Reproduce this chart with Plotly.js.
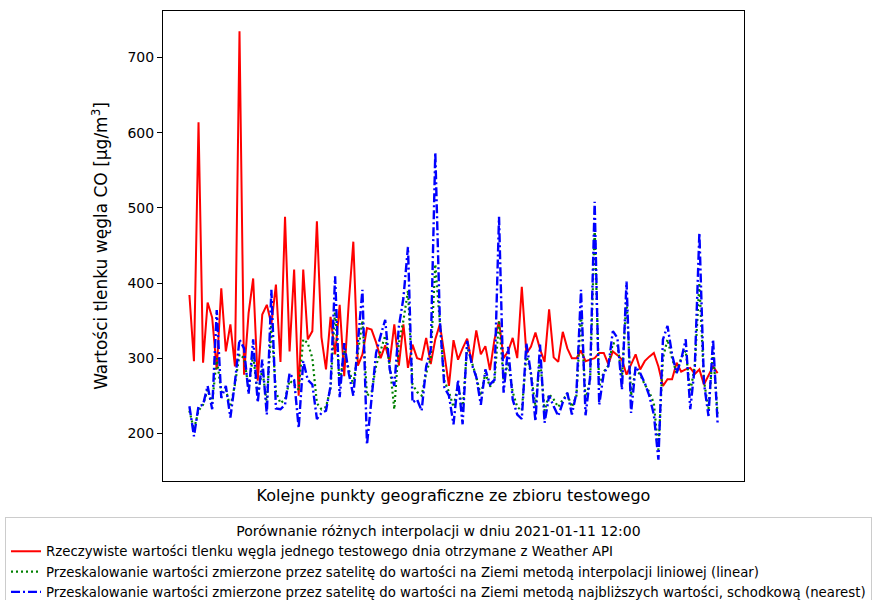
<!DOCTYPE html>
<html><head><meta charset="utf-8">
<script src="https://cdn.plot.ly/plotly-3.0.1.min.js"></script>
<style>html,body{margin:0;padding:0;background:#fff;overflow:hidden;} #chart{width:872px;height:620px;}</style>
</head><body><div id="chart"></div>
<script>
const realCO = [384,296,614,294,374,354,285,393,309,345,
 289,735,278,360,406,270,358,371,345,398,
 295,488,309,418,250,418,325,336,482,328,
 285,355,305,371,276,374,455,290,305,340,
 338,321,300,317,295,345,290,345,287,318,
 300,298,327,292,325,345,305,263,324,298,
 313,326,294,337,305,316,284,325,349,300,
 309,327,300,395,306,315,334,312,295,365,
 301,295,335,313,300,300,310,296,298,300,
 307,307,292,309,304,298,278,292,305,285,
 296,302,307,289,263,272,272,294,282,285,
 287,279,285,265,277,289,280];
const linearCO = [230,205,230,238,258,240,300,255,258,235,
 265,305,300,260,305,250,285,240,345,255,
 240,245,270,265,258,325,320,300,240,232,
 235,260,365,265,310,285,265,305,350,250,
 255,290,310,330,290,232,320,350,390,265,
 255,250,280,300,425,345,270,255,235,265,
 230,315,295,275,250,280,262,270,350,270,
 295,255,235,230,305,280,235,300,230,252,
 245,235,245,252,235,250,360,245,270,475,
 262,282,290,320,318,275,380,250,285,278,
 265,255,240,178,300,325,300,280,300,310,
 255,290,400,270,232,310,225];
const nearestCO = [236,196,236,238,263,232,364,247,263,221,
 268,325,313,252,325,241,298,225,391,233,
 232,238,280,271,207,296,271,265,219,227,
 230,263,409,248,320,280,250,316,391,185,
 250,307,330,351,285,263,342,380,448,241,
 245,230,289,311,574,351,261,250,212,271,
 212,323,292,275,238,285,265,271,488,254,
 315,245,225,219,320,280,216,318,214,250,
 236,223,241,254,225,254,391,224,275,508,
 238,280,289,336,327,258,402,227,289,280,
 267,250,225,165,325,343,305,280,298,325,
 232,289,467,267,223,325,214];
const yTicks = [200,300,400,500,600,700];
const seriesNames = [
 "Rzeczywiste wartości tlenku węgla jednego testowego dnia otrzymane z Weather API",
 "Przeskalowanie wartości zmierzone przez satelitę do wartości na Ziemi metodą interpolacji liniowej (linear)",
 "Przeskalowanie wartości zmierzone przez satelitę do wartości na Ziemi metodą najbliższych wartości, schodkową (nearest)"
];
const legendTitle = "Porównanie różnych interpolacji w dniu 2021-01-11 12:00";
const xTitle = "Kolejne punkty geograficzne ze zbioru testowego";
const yTitle = "Wartości tlenku węgla CO [μg/m<sup>3</sup>]";

const idx = realCO.map((_, i) => i);
const traces = [
 {x: idx, y: realCO, name: seriesNames[0], mode: "lines", line: {color: "#ff0000", width: 2}},
 {x: idx, y: linearCO, name: seriesNames[1], mode: "lines", line: {color: "#008000", width: 2.2, dash: "2px,3px"}},
 {x: idx, y: nearestCO, name: seriesNames[2], mode: "lines", line: {color: "#0000ff", width: 2.4, dash: "9px,3px,2px,3px"}}
];
const font = "DejaVu Sans, sans-serif";
const layout = {
 width: 872, height: 620,
 paper_bgcolor: "#fff", plot_bgcolor: "#fff",
 margin: {l: 161, r: 128, t: 11, b: 138},
 font: {family: font, color: "#000", size: 14},
 showlegend: true,
 xaxis: {range: [-5.8, 121.8], showticklabels: false, ticks: "", showgrid: false, zeroline: false,
   showline: true, linecolor: "#000", linewidth: 1, mirror: true, automargin: false,
   title: {text: xTitle, font: {size: 16}, standoff: 8}},
 yaxis: {range: [136.5, 762], tickvals: yTicks, ticks: "outside", ticklen: 5, tickcolor: "#000",
   tickfont: {size: 14}, showgrid: false, zeroline: false, automargin: false,
   showline: true, linecolor: "#000", linewidth: 1, mirror: true,
   title: {text: yTitle, font: {size: 17}, standoff: 15}},
 legend: {x: (8-161)/583, y: (482-518)/471, xanchor: "left", yanchor: "top",
   bgcolor: "#fff", bordercolor: "#cccccc", borderwidth: 1,
   font: {size: 13.3}, tracegroupgap: 0,
   title: {text: legendTitle, side: "top center", font: {size: 14}}}
};
Plotly.newPlot("chart", traces, layout, {displayModeBar: false, staticPlot: true});
</script>
</body></html>
